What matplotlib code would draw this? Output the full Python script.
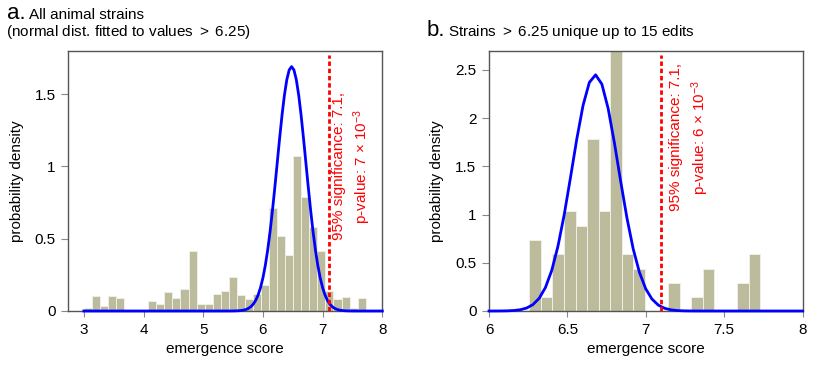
import numpy as np
import matplotlib
matplotlib.use("Agg")
import matplotlib.pyplot as plt

plt.rcParams["font.family"] = ["Liberation Sans", "DejaVu Sans"]
plt.rcParams["mathtext.fontset"] = "custom"
plt.rcParams["mathtext.rm"] = "Liberation Sans"
plt.rcParams["mathtext.it"] = "Liberation Sans:italic"

# ── data ─────────────────────────────────────────────────────────────────────
# panel a: all animal strains (histogram densities, 35 bins from 3.0)
a_bin_start = 3.0
a_bin_width = 0.1349
a_density = [0.023, 0.104, 0.035, 0.101, 0.092, 0.0, 0.0, 0.0,
             0.069, 0.051, 0.129, 0.092, 0.150, 0.412, 0.046, 0.051,
             0.120, 0.138, 0.233, 0.111, 0.083, 0.120, 0.180, 0.710,
             0.518, 0.387, 1.071, 0.786, 0.583, 0.415, 0.138, 0.083,
             0.097, 0.018, 0.090]
a_fit = dict(mu=6.48, sigma=0.24, peak=1.69)   # normal fitted to values > 6.25
a_sig = 7.1
a_pval = "7 × 10$^{-3}$"

# panel b: strains > 6.25 unique up to 15 edits (20 bins from 6.257)
b_bin_start = 6.257
b_bin_width = 0.07375
b_density = [0.736, 0.146, 0.590, 1.035, 0.885, 1.780, 1.035, 4.670,
             0.590, 0.440, 0.0, 0.0, 0.295, 0.0, 0.146, 0.440,
             0.0, 0.0, 0.295, 0.590]
b_fit = dict(mu=6.678, sigma=0.148, peak=2.45)
b_sig = 7.1
b_pval = "6 × 10$^{-3}$"

BAR_C = "#bcbc9d"
W, H = 817, 367


def px_axes(fig, left, top, right, bottom):
    return fig.add_axes([left / W, 1 - bottom / H, (right - left) / W, (bottom - top) / H])


def gauss(x, mu, sigma, peak):
    return peak * np.exp(-0.5 * ((x - mu) / sigma) ** 2)


def panel(ax, start, width, dens, fit, sig, pval, xlim, ylim, xticks, yticks,
          x_curve, text_y):
    edges = start + width * np.arange(len(dens))
    ax.bar(edges, dens, width=width, align="edge", color=BAR_C,
           edgecolor="#efefe8", linewidth=0.7, zorder=2)
    xs = np.linspace(x_curve[0], x_curve[1], int(round((x_curve[1] - x_curve[0]) / 0.04)) + 1)
    ax.plot(xs, gauss(xs, **fit), color="#0000ff", lw=2.0, zorder=3, clip_on=False)
    ax.axvline(sig, ymin=0, ymax=0.983, color="#ff0000", lw=2.0,
               ls=(0, (1.6, 1.0)), zorder=4)
    ax.text(sig + 0.05, text_y, f"95% significance: {sig},\np-value: {pval}",
            rotation=90, color="#ff0000", fontsize=11, ha="left", va="center",
            multialignment="center", linespacing=1.4)
    ax.set_xlim(*xlim)
    ax.set_ylim(*ylim)
    ax.set_xticks(xticks)
    ax.set_xticklabels([f"{t:g}" for t in xticks])
    ax.set_yticks(yticks)
    ax.set_yticklabels([f"{t:g}" for t in yticks])
    ax.tick_params(axis="x", length=4, width=0.8, color="#888888", pad=5, labelsize=11)
    ax.tick_params(axis="y", length=5, width=0.8, color="#888888", pad=4, labelsize=11)
    for s in ax.spines.values():
        s.set_color("#555555")
        s.set_linewidth(1.0)
    ax.set_xlabel("emergence score", fontsize=11, labelpad=3)
    ax.set_ylabel("probability density", fontsize=11, labelpad=8)


fig = plt.figure(figsize=(W / 100, H / 100), dpi=100)

ax_a = px_axes(fig, 68.3, 50.7, 382.3, 311)
panel(ax_a, a_bin_start, a_bin_width, a_density, a_fit, a_sig, a_pval,
      (2.74, 8.0), (0, 1.8), [3, 4, 5, 6, 7, 8], [0, 0.5, 1, 1.5],
      (3.0, 8.0), 1.0)

ax_b = px_axes(fig, 489, 50.7, 802.5, 311)
panel(ax_b, b_bin_start, b_bin_width, b_density, b_fit, b_sig, b_pval,
      (6.0, 8.0), (0, 2.7), [6, 6.5, 7, 7.5, 8], [0, 0.5, 1, 1.5, 2, 2.5],
      (6.0, 8.0), 1.8)

# titles
fig.text(7 / W, 1 - 19 / H, "a.", fontsize=16, va="baseline", ha="left")
fig.text(29 / W, 1 - 19 / H, "All animal strains", fontsize=11, va="baseline", ha="left")
fig.text(6 / W, 1 - 36 / H, r"(normal dist. fitted to values $>$ 6.25)", fontsize=11,
         va="baseline", ha="left")
fig.text(427 / W, 1 - 36 / H, "b.", fontsize=16, va="baseline", ha="left")
fig.text(448 / W, 1 - 36 / H, r"Strains $>$ 6.25 unique up to 15 edits", fontsize=11,
         va="baseline", ha="left")

fig.savefig("out.png", dpi=100)
